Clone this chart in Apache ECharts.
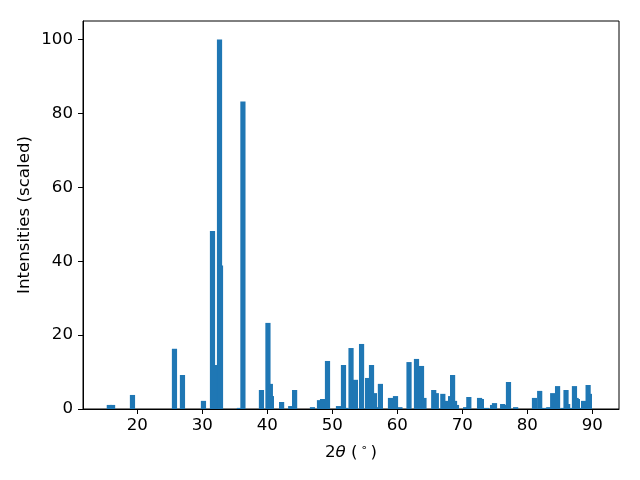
<!DOCTYPE html>
<html>
<head>
<meta charset="utf-8">
<script src="https://cdn.jsdelivr.net/npm/echarts@6/dist/echarts.min.js"></script>
<style>html,body{margin:0;padding:0;background:#fff}#c{width:640px;height:480px}</style>
</head>
<body>
<div id="c"></div>
<script>
const twoTheta = [15.7,16.2,19.26,25.72,26.95,30.18,31.57,32.35,32.65,32.8,35.7,36.25,
  39.1,40.1,40.47,40.63,42.2,43.6,44.2,46.95,48.03,48.5,49.26,50.95,51.72,52.05,52.88,53.55,
  54.5,55.43,56.03,56.48,56.63,57.4,58.95,59.72,60.4,61.8,62.95,63.72,64.1,65.6,66.0,67.0,
  67.4,68.2,68.5,68.8,69.1,70.5,71.0,72.65,72.93,73.73,74.65,74.95,76.2,76.6,77.1,78.2,
  81.1,81.9,82.17,83.0,83.3,83.9,84.65,85.5,85.95,86.2,86.6,87.25,87.5,87.7,88.0,88.65,89.35,89.55];
const intensity = [1.1,1.1,3.8,16.3,9.2,2.2,48.2,11.9,100,38.8,0.3,83.2,
  5.15,23.3,6.8,3.5,1.9,0.8,5.15,0.5,2.4,2.7,13.0,0.8,11.9,0.3,16.5,7.9,
  17.6,8.4,11.9,4.3,0.5,6.8,3.0,3.5,0.5,12.7,13.55,11.65,3.0,5.15,4.3,4.1,
  2.2,3.5,9.2,2.2,1.1,0.5,3.25,3.0,2.7,0.3,1.1,1.6,1.35,1.1,7.3,0.5,
  3.0,4.9,0.3,0.3,0.5,4.3,6.2,0.3,5.15,1.35,0.3,6.2,3.0,2.7,0.3,2.2,6.5,4.1];
const xTicks = [20,30,40,50,60,70,80,90];
const yTicks = [0,20,40,60,80,100];

const xMin = 11.65, xMax = 94.1, yMin = 0, yMax = 105;
const gridL = 83, gridR = 21, gridT = 21, gridB = 71;
const barW = 0.8 * (640 - gridL - gridR) / (xMax - xMin);
const fs = 16.67;

const chart = echarts.init(document.getElementById('c'), null, {renderer: 'canvas'});
const font = 'DejaVu Sans';
chart.setOption({
  animation: false,
  textStyle: {fontFamily: font},
  grid: {left: gridL, right: gridR, top: gridT, bottom: gridB, show: true, borderColor: '#000', borderWidth: 1, backgroundColor: 'transparent'},
  xAxis: {
    type: 'value', min: xMin, max: xMax,
    splitLine: {show: false},
    axisLine: {show: true, lineStyle: {color: '#000', width: 1}},
    axisTick: {show: true, inside: false, length: 5, lineStyle: {color: '#000'}, customValues: xTicks},
    axisLabel: {show: true, color: '#000', fontSize: fs, fontFamily: font, margin: 8, customValues: xTicks},
    name: '{n|2}{i|θ}{n| (}{s|∘}{n|)}',
    nameLocation: 'middle', nameGap: 34,
    nameTextStyle: {
      rich: {
        n: {fontSize: fs, color: '#000', fontFamily: font},
        i: {fontSize: fs, color: '#000', fontFamily: font, fontStyle: 'italic'},
        s: {fontSize: 11, color: '#000', fontFamily: font, padding: [0, 3, 8, 3]}
      }
    }
  },
  yAxis: {
    type: 'value', min: yMin, max: yMax,
    splitLine: {show: false},
    axisLine: {show: true, lineStyle: {color: '#000', width: 1}},
    axisTick: {show: true, inside: false, length: 5, lineStyle: {color: '#000'}, customValues: yTicks},
    axisLabel: {show: true, color: '#000', fontSize: fs, fontFamily: font, margin: 10, customValues: yTicks},
    name: 'Intensities (scaled)',
    nameLocation: 'middle', nameGap: 50, nameMoveOverlap: false,
    nameTextStyle: {fontSize: fs, color: '#000', fontFamily: font}
  },
  series: [{
    type: 'bar',
    data: twoTheta.map((x, i) => [x, intensity[i]]),
    barWidth: barW,
    barGap: '-100%',
    itemStyle: {color: '#1f77b4'},
    emphasis: {disabled: true}
  }]
});
</script>
</body>
</html>
